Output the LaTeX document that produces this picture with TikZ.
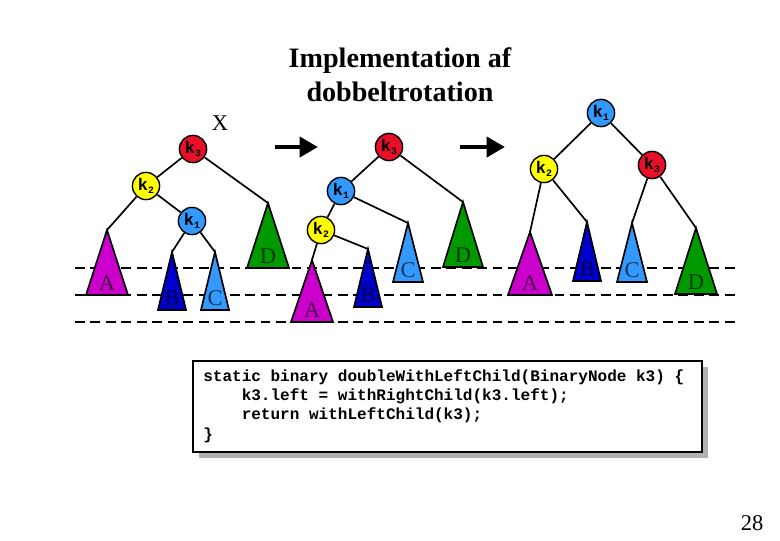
\documentclass[tikz,border=0pt]{standalone}
\usepackage{fontspec}
\setmainfont{Liberation Serif}
\setmonofont{Liberation Mono}
\usetikzlibrary{arrows.meta}
\definecolor{rod}{RGB}{232,16,40}
\definecolor{gul}{RGB}{255,255,0}
\definecolor{lysblaa}{RGB}{51,153,255}
\definecolor{blaa}{RGB}{0,0,204}
\definecolor{lilla}{RGB}{204,0,204}
\definecolor{groen}{RGB}{0,153,0}
\newcommand{\trekant}[7]{%
  \coordinate (#1) at (#2,#3);
  \filldraw[fill=#6,line width=1.2pt] (#1)--(#2-#4,#5)--(#2+#4,#5)--cycle;
  \node[bogstav,text=#6!35!black] (#1l) at (#2,#5-12) {#7};}
\begin{document}
\begin{tikzpicture}[x=0.025cm,y=-0.025cm,
  knude/.style={circle,draw,line width=1pt,minimum size=0.68cm,inner sep=0pt,
    font=\fontsize{12}{12}\ttfamily\bfseries},
  kant/.style={line width=1.2pt},
  bogstav/.style={inner sep=0pt,font=\fontsize{16}{16}\selectfont},
  niveau/.style={dashed,line width=1.2pt,dash pattern=on 7pt off 4pt},
  pil/.style={line width=3.5pt,-{Triangle[length=13pt,width=14pt]}}]
\useasboundingbox (0,0) rectangle (780,540);

% overskrift
\node[align=center,font=\fontsize{20}{24}\selectfont\bfseries] (titel) at (400,75)
  {Implementation af\\dobbeltrotation};
\node[font=\fontsize{16}{16}\selectfont] (x) at (220,123) {X};

% niveaulinjer
\draw[niveau] (75,268)--(740,268);
\draw[niveau] (75,295)--(740,295);
\draw[niveau] (75,322)--(740,322);

% foer
\trekant{aA}{107}{230}{21}{295}{lilla}{A}
\trekant{aB}{172}{252}{14}{310}{blaa}{B}
\trekant{aC}{215}{252}{14}{310}{lysblaa}{C}
\trekant{aD}{268}{203}{21}{268}{groen}{D}
\node[knude,fill=rod] (ak3) at (193,149) {k\raisebox{-.35ex}{\scriptsize 3}};
\node[knude,fill=gul] (ak2) at (146,186) {k\raisebox{-.35ex}{\scriptsize 2}};
\node[knude,fill=lysblaa] (ak1) at (192,221) {k\raisebox{-.35ex}{\scriptsize 1}};
\draw[kant] (ak3)--(ak2) (ak3)--(aD) (ak2)--(aA) (ak2)--(ak1)
  (ak1)--(aB) (ak1)--(aC);

% efter foerste rotation
\trekant{bA}{312}{260}{21}{322}{lilla}{A}
\trekant{bB}{368}{249}{14}{307}{blaa}{B}
\trekant{bC}{408}{223}{15}{282}{lysblaa}{C}
\trekant{bD}{463}{202}{20}{267}{groen}{D}
\node[knude,fill=rod] (bk3) at (389,147) {k\raisebox{-.35ex}{\scriptsize 3}};
\node[knude,fill=lysblaa] (bk1) at (341,191) {k\raisebox{-.35ex}{\scriptsize 1}};
\node[knude,fill=gul] (bk2) at (321,230) {k\raisebox{-.35ex}{\scriptsize 2}};
\draw[kant] (bk3)--(bk1) (bk3)--(bD) (bk1)--(bk2) (bk1)--(bC)
  (bk2)--(bA) (bk2)--(bB);

% efter anden rotation
\trekant{cA}{530}{232}{22}{295}{lilla}{A}
\trekant{cB}{587}{222}{14}{281}{blaa}{B}
\trekant{cC}{632}{223}{15}{282}{lysblaa}{C}
\trekant{cD}{696}{228}{21}{294}{groen}{D}
\node[knude,fill=lysblaa] (ck1) at (601,113) {k\raisebox{-.35ex}{\scriptsize 1}};
\node[knude,fill=gul] (ck2) at (544,169) {k\raisebox{-.35ex}{\scriptsize 2}};
\node[knude,fill=rod] (ck3) at (652,165) {k\raisebox{-.35ex}{\scriptsize 3}};
\draw[kant] (ck1)--(ck2) (ck1)--(ck3) (ck2)--(cA) (ck2)--(cB)
  (ck3)--(cC) (ck3)--(cD);

% pile
\coordinate (p1a) at (275,147); \coordinate (p1b) at (318,147);
\coordinate (p2a) at (460,147); \coordinate (p2b) at (505,147);
\draw[pil] (p1a)--(p1b);
\draw[pil] (p2a)--(p2b);

% kode
\fill[gray!60] (199,367) rectangle (708,458);
\draw[line width=1pt,fill=white] (193,361) rectangle (702,452);
\node[anchor=north west,inner sep=0pt,align=left,
  font=\fontsize{11.4}{13.8}\ttfamily\bfseries] (kode) at (203,369)
  {static binary doubleWithLeftChild(BinaryNode k3) \{\\
   \hspace*{2.4em}k3.left = withRightChild(k3.left);\\
   \hspace*{2.4em}return withLeftChild(k3);\\
   \}};

\node[font=\fontsize{16}{16}\selectfont] (side) at (752,523) {28};
\end{tikzpicture}
\end{document}
